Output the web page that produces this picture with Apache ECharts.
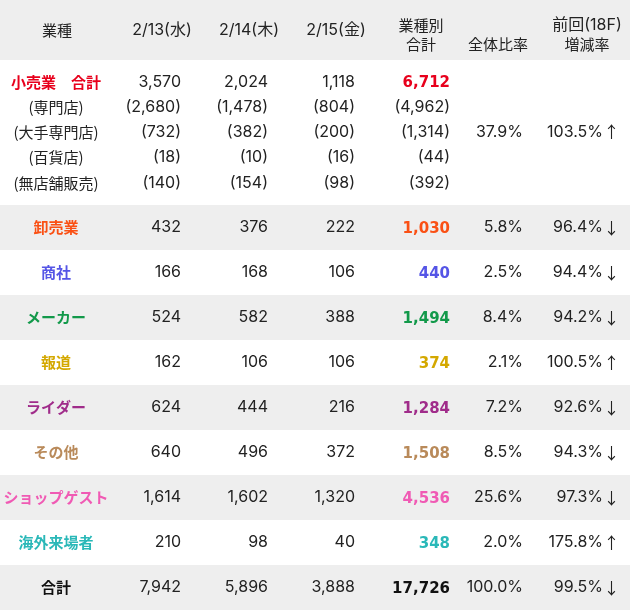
<!DOCTYPE html>
<html>
<head>
<meta charset="utf-8">
<script src="https://cdn.jsdelivr.net/npm/echarts@6/dist/echarts.min.js"></script>
<style>
html,body{margin:0;padding:0;background:#fff;}
#chart{width:630px;height:610px;}
</style>
</head>
<body>
<div id="chart"></div>
<script>
// ---------- data ----------
const headerLabels = ['業種', '2/13(水)', '2/14(木)', '2/15(金)', '業種別', '合計', '全体比率', '前回(18F)', '増減率'];
const retailLabel = '小売業\u3000合計';
const retailDays = [3570, 2024, 1118];
const retailTotal = 6712;
const retailShare = 37.9;
const retailChange = 103.5;
const retailSubLabels = ['(専門店)', '(大手専門店)', '(百貨店)', '(無店舗販売)'];
const retailSubDay1 = [2680, 732, 18, 140];
const retailSubDay2 = [1478, 382, 10, 154];
const retailSubDay3 = [804, 200, 16, 98];
const retailSubTotals = [4962, 1314, 44, 392];
const categories = ['卸売業', '商社', 'メーカー', '報道', 'ライダー', 'その他', 'ショップゲスト', '海外来場者', '合計'];
const day1 = [432, 166, 524, 162, 624, 640, 1614, 210, 7942];
const day2 = [376, 168, 582, 106, 444, 496, 1602, 98, 5896];
const day3 = [222, 106, 388, 106, 216, 372, 1320, 40, 3888];
const totals = [1030, 440, 1494, 374, 1284, 1508, 4536, 348, 17726];
const shares = [5.8, 2.5, 8.4, 2.1, 7.2, 8.5, 25.6, 2.0, 100.0];
const changeRates = [96.4, 94.4, 94.2, 100.5, 92.6, 94.3, 97.3, 175.8, 99.5];

// ---------- style / layout ----------
const W = 630, H = 610;
const retailColor = '#e8001c';
const categoryColors = ['#fa5014', '#5555e6', '#12994a', '#d4a800', '#a02c8a', '#b98a5a', '#f05ab4', '#2ab8b8', '#111111'];
const TEXT = '#222222';
const GRAY = '#eeeeee';
const JP_FONT = "'Noto Sans CJK JP', sans-serif";
const NUM_FONT = "'Inter', 'Noto Sans CJK JP', sans-serif";
const BOLD_NUM_FONT = "'DejaVu Sans', sans-serif";
const LABEL_CX = 56;
const COL_RIGHT = [181, 268, 355, 450, 523, 603];
const ARROW_CX = 611.5;
const HEAD_CX = [57, 162, 249, 336, 421, 498, 587];
const HEADER_H = 60, RETAIL_H = 145, ROW_H = 45;

const fmt = v => v.toLocaleString('en-US');
const pct = v => v.toFixed(1) + '%';
const arrow = v => (v >= 100 ? '↑' : '↓');

// bands
const bands = [[0, HEADER_H, 1], [HEADER_H, HEADER_H + RETAIL_H, 0]];
categories.forEach((c, i) => {
  const y0 = HEADER_H + RETAIL_H + i * ROW_H;
  bands.push([y0, y0 + ROW_H, i % 2 === 0 ? 1 : 0]);
});

// text styles
const S = {
  jp:     {font: JP_FONT, size: 15, weight: 'normal', dy: 0},
  jpBold: {font: JP_FONT, size: 15, weight: 'bold', dy: 0},
  arrow:  {font: JP_FONT, size: 16, weight: 'normal', dy: 0},
  num:    {font: NUM_FONT, size: 16, weight: 'normal', dy: 0},
  numBold:{font: BOLD_NUM_FONT, size: 15, weight: 'bold', dy: 1.5}
};

// cells
const cells = [];
function cell(x, y, text, align, color, st) {
  cells.push({x, y: y + st.dy, text, align, color, st});
}
function change(y, v) {
  cell(COL_RIGHT[5], y, pct(v), 'right', TEXT, S.num);
  cell(ARROW_CX, y, arrow(v), 'center', TEXT, S.arrow);
}
// header
cell(HEAD_CX[0], 30, headerLabels[0], 'center', TEXT, S.jp);
cell(HEAD_CX[1], 30, headerLabels[1], 'center', TEXT, S.num);
cell(HEAD_CX[2], 30, headerLabels[2], 'center', TEXT, S.num);
cell(HEAD_CX[3], 30, headerLabels[3], 'center', TEXT, S.num);
cell(HEAD_CX[4], 25, headerLabels[4], 'center', TEXT, S.jp);
cell(HEAD_CX[4], 44, headerLabels[5], 'center', TEXT, S.jp);
cell(HEAD_CX[5], 44, headerLabels[6], 'center', TEXT, S.jp);
cell(HEAD_CX[6], 25, headerLabels[7], 'center', TEXT, S.num);
cell(HEAD_CX[6], 44, headerLabels[8], 'center', TEXT, S.jp);
// retail block
const rY0 = 82, rStep = 25.2;
cell(LABEL_CX, rY0, retailLabel, 'center', retailColor, S.jpBold);
retailDays.forEach((v, j) => cell(COL_RIGHT[j], rY0, fmt(v), 'right', TEXT, S.num));
cell(COL_RIGHT[3], rY0, fmt(retailTotal), 'right', retailColor, S.numBold);
retailSubLabels.forEach((lab, k) => {
  const y = rY0 + (k + 1) * rStep;
  cell(LABEL_CX, y, lab, 'center', TEXT, S.jp);
  cell(COL_RIGHT[0], y, '(' + fmt(retailSubDay1[k]) + ')', 'right', TEXT, S.num);
  cell(COL_RIGHT[1], y, '(' + fmt(retailSubDay2[k]) + ')', 'right', TEXT, S.num);
  cell(COL_RIGHT[2], y, '(' + fmt(retailSubDay3[k]) + ')', 'right', TEXT, S.num);
  cell(COL_RIGHT[3], y, '(' + fmt(retailSubTotals[k]) + ')', 'right', TEXT, S.num);
});
cell(COL_RIGHT[4], rY0 + 2 * rStep, pct(retailShare), 'right', TEXT, S.num);
change(rY0 + 2 * rStep, retailChange);
// category rows
categories.forEach((c, i) => {
  const y = HEADER_H + RETAIL_H + i * ROW_H + ROW_H / 2;
  const col = categoryColors[i];
  cell(LABEL_CX, y, c, 'center', col, S.jpBold);
  cell(COL_RIGHT[0], y, fmt(day1[i]), 'right', TEXT, S.num);
  cell(COL_RIGHT[1], y, fmt(day2[i]), 'right', TEXT, S.num);
  cell(COL_RIGHT[2], y, fmt(day3[i]), 'right', TEXT, S.num);
  cell(COL_RIGHT[3], y, fmt(totals[i]), 'right', col, S.numBold);
  cell(COL_RIGHT[4], y, pct(shares[i]), 'right', TEXT, S.num);
  change(y, changeRates[i]);
});

const chart = echarts.init(document.getElementById('chart'), null, {renderer: 'canvas'});
chart.setOption({
  animation: false,
  backgroundColor: '#ffffff',
  grid: {left: 0, right: 0, top: 0, bottom: 0},
  xAxis: {type: 'value', min: 0, max: W, show: false},
  yAxis: {type: 'value', min: 0, max: H, inverse: true, show: false},
  series: [
    {
      type: 'custom',
      silent: true,
      data: bands,
      renderItem: function (params, api) {
        const p0 = api.coord([0, api.value(0)]);
        const p1 = api.coord([W, api.value(1)]);
        return {
          type: 'rect',
          shape: {x: p0[0], y: p0[1], width: p1[0] - p0[0], height: p1[1] - p0[1]},
          style: {fill: api.value(2) ? GRAY : '#ffffff'}
        };
      }
    },
    {
      type: 'custom',
      silent: true,
      data: cells.map((c, i) => [c.x, c.y, i]),
      renderItem: function (params, api) {
        const c = cells[params.dataIndex];
        const p = api.coord([c.x, c.y]);
        return {
          type: 'text',
          x: p[0], y: p[1],
          style: {
            text: c.text,
            fill: c.color,
            fontSize: c.st.size,
            fontFamily: c.st.font,
            fontWeight: c.st.weight,
            align: c.align,
            verticalAlign: 'middle'
          }
        };
      }
    }
  ]
});
</script>
</body>
</html>
